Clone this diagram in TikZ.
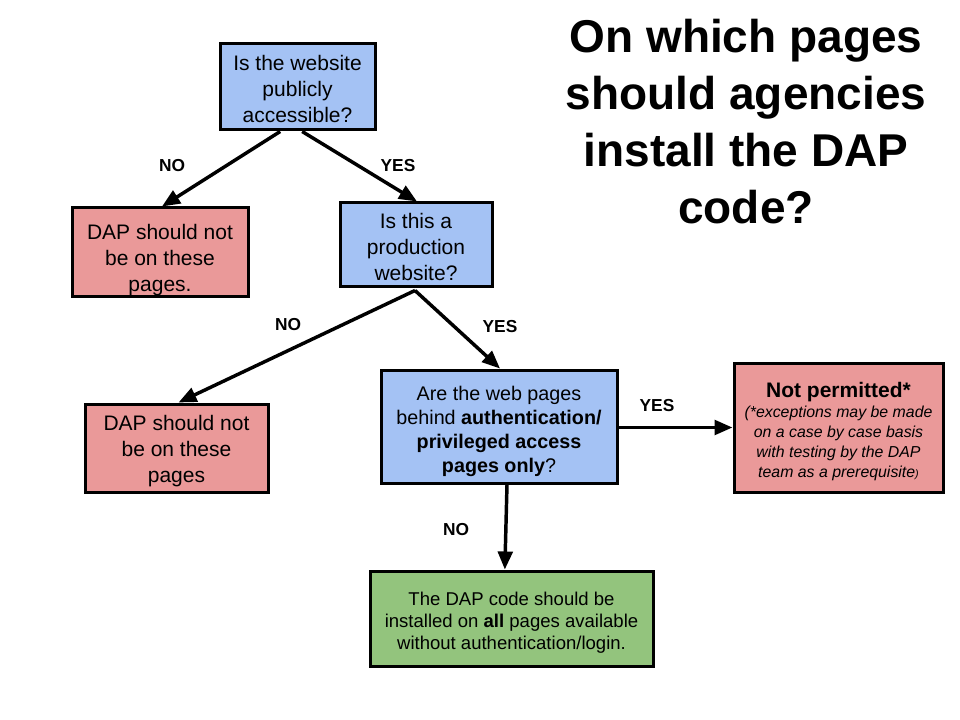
\documentclass[tikz,border=0pt]{standalone}
\usepackage{fontspec}
\setmainfont{Liberation Sans}
\usetikzlibrary{arrows.meta}
\definecolor{qblue}{HTML}{A4C2F4}
\definecolor{nred}{HTML}{EA9999}
\definecolor{ygreen}{HTML}{93C47D}
\newcommand{\tdrop}[1]{\rule{0pt}{#1}}
\tikzset{
  box/.style={draw=black, line width=2.25pt, align=center, inner sep=0pt,
    font=\fontsize{15.75pt}{19.5pt}\selectfont},
  qbox/.style={box, fill=qblue},
  rbox/.style={box, fill=nred},
  gbox/.style={box, fill=ygreen},
  conn/.style={line width=2.6pt, -{Triangle[length=13.5pt,width=11pt]}},
  lbl/.style={font=\bfseries\fontsize{13pt}{15pt}\selectfont, inner sep=0pt},
}
\begin{document}
\begin{tikzpicture}[x=0.75pt, y=-0.75pt]
\useasboundingbox (0,0) rectangle (960,720);
\fill[white] (0,0) rectangle (960,720);

\node[align=center, font=\bfseries\fontsize{34.5pt}{42.75pt}\selectfont] (title) at (746,122)
  {On which pages\\should agencies\\install the DAP\\code?};

\node[qbox, minimum width=116.25pt, minimum height=64.5pt] (q1) at (297.5,87)
  {\tdrop{14.4pt}Is the website\\publicly\\accessible?};
\node[rbox, minimum width=132pt, minimum height=66.75pt] (r1) at (160,252.5)
  {\tdrop{23.3pt}DAP should not\\be on these\\pages.};
\node[qbox, minimum width=114pt, minimum height=63pt] (q2) at (416,245)
  {\tdrop{14.3pt}Is this a\\production\\website?};
\node[rbox, minimum width=137.25pt, minimum height=66pt] (r2) at (176.5,448)
  {\tdrop{15.8pt}DAP should not\\be on these\\pages};
\node[qbox, minimum width=177pt, minimum height=84.75pt,
  font=\fontsize{14.8pt}{18pt}\selectfont] (q3) at (499,426.5)
  {\tdrop{17.5pt}Are the web pages\\behind \textbf{authentication/}\\\textbf{privileged access}\\\textbf{pages only}?};
\node[rbox, minimum width=156.75pt, minimum height=96.75pt] (np) at (838.5,427.5)
  {\parbox{150pt}{\centering\tdrop{17.4pt}\textbf{Not permitted*}\par\vspace{0.5pt}%
   \itshape\fontsize{11.9pt}{15pt}\selectfont (*exceptions may be made\\on a case by case basis\\with testing by the DAP\\team as a prerequisite{\fontsize{8pt}{8pt}\selectfont)}\par}};
\node[gbox, minimum width=212.25pt, minimum height=71.25pt,
  font=\fontsize{13.9pt}{16.5pt}\selectfont] (g) at (511.5,618.5)
  {\tdrop{16.1pt}The DAP code should be\\installed on \textbf{all} pages available\\without authentication/login.};

\draw[conn] ([xshift=-13pt]q1.south) -- ([xshift=1.5pt]r1.north);
\draw[conn] ([xshift=3.5pt]q1.south) -- ([xshift=0.75pt]q2.north);
\draw[conn] ([xshift=-0.75pt,yshift=-1.5pt]q2.south) -- ([xshift=1.5pt]r2.north);
\draw[conn] ([xshift=-0.75pt,yshift=-1.5pt]q2.south) -- ([xshift=0.75pt]q3.north);
\draw[conn] ([yshift=-0.75pt]q3.east) -- ([yshift=-0.75pt]np.west |- q3.east);
\draw[conn] ([xshift=6pt]q3.south) -- ([xshift=-5pt]g.north);

\node[lbl] (l1) at (172,166) {NO};
\node[lbl] (l2) at (398,166) {YES};
\node[lbl] (l3) at (288,325) {NO};
\node[lbl] (l4) at (500,327) {YES};
\node[lbl] (l5) at (657,406) {YES};
\node[lbl] (l6) at (456,530) {NO};
\end{tikzpicture}
\end{document}
